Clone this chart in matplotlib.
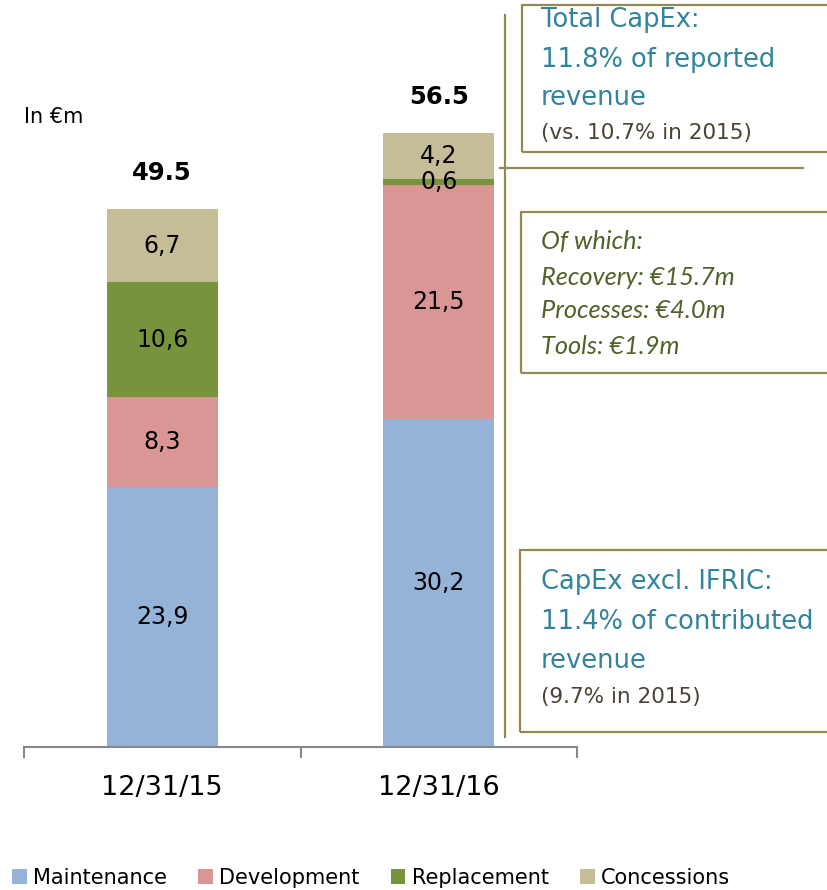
import matplotlib
matplotlib.use("Agg")
import matplotlib.pyplot as plt
from matplotlib.patches import Rectangle
from matplotlib.lines import Line2D
import numpy as np

# data
dates = ["12/31/15", "12/31/16"]
series = ["Maintenance", "Development", "Replacement", "Concessions"]
maintenance = [23.9, 30.2]
development = [8.3, 21.5]
replacement = [10.6, 0.6]
concessions = [6.7, 4.2]
totals = [49.5, 56.5]
colors = ["#95B3D7", "#D99694", "#77933C", "#C4BD97"]

W, H = 827, 890
plt.rcParams['font.family'] = 'DejaVu Sans'

fig = plt.figure(figsize=(W / 100, H / 100), dpi=100)


def fx(px):
    return px / W


def fy(py):
    return 1 - py / H


# axes: baseline at y=747px, spans x 24..577px
ax = fig.add_axes([fx(24), fy(747), fx(577) - fx(24), (747 - 95) / H])
ax.set_xlim(-0.5, 1.5)
ax.set_ylim(0, 60)

x = np.arange(len(dates))
bottom = np.zeros(len(dates))
containers = []
for name, vals, c in zip(series, [maintenance, development, replacement, concessions], colors):
    bc = ax.bar(x, vals, 0.4, bottom=bottom, color=c, label=name)
    ax.bar_label(bc, labels=[f"{v:.1f}".replace(".", ",") for v in vals],
                 label_type="center", fontsize=17, color="black")
    bottom += np.array(vals)
    containers.append(bc)

ax.bar_label(containers[-1], labels=[f"{t:.1f}" for t in totals], padding=17,
             fontsize=17.5, fontweight="bold")

for s in ["top", "left", "right"]:
    ax.spines[s].set_visible(False)
ax.spines["bottom"].set_color("#888888")
ax.spines["bottom"].set_linewidth(1.5)
ax.set_yticks([])
ax.set_xticks(x)
ax.set_xticklabels(dates, fontsize=19.5)
ax.tick_params(axis="x", which="major", length=0, pad=20)
ax.set_xticks([-0.5, 0.5, 1.5], minor=True)
ax.tick_params(axis="x", which="minor", length=8, width=1.5, color="#888888")

fig.text(fx(24), fy(117), "In €m", fontsize=15, va="center", ha="left")

# legend
fig.legend(handles=containers, labels=series, loc="center left",
           bbox_to_anchor=(fx(4), fy(878)), ncol=4, frameon=False, fontsize=15,
           handlelength=0.7, handleheight=0.7, handletextpad=0.3,
           columnspacing=1.5, borderaxespad=0)

# annotation boxes
box_col = "#938953"
teal = "#31849B"
dark = "#4A4232"
green = "#4F6228"

for (l, t, b) in [(522, 5, 152), (521, 212, 373), (520, 550, 732)]:
    fig.add_artist(Rectangle((fx(l), fy(b)), fx(860 - l), (b - t) / H,
                             transform=fig.transFigure, fill=False,
                             edgecolor=box_col, lw=1.6, clip_on=False))

fig.add_artist(Line2D([fx(505), fx(505)], [fy(15), fy(737)], color=box_col, lw=1.6))
fig.add_artist(Line2D([fx(500), fx(803)], [fy(168), fy(168)], color=box_col, lw=1.6))

tx = fx(541)
for yy, s in [(20, "Total CapEx:"), (60, "11.8% of reported"), (98, "revenue")]:
    fig.text(tx, fy(yy), s, fontsize=18.5, color=teal, va="center")
fig.text(tx, fy(133), "(vs. 10.7% in 2015)", fontsize=15.5, color=dark, va="center")

for yy, s in [(242, "Of which:"), (277, "Recovery: €15.7m"),
              (311, "Processes: €4.0m"), (346, "Tools: €1.9m")]:
    fig.text(tx, fy(yy), s, fontsize=18.3, color=green, style="italic", va="center",
             family="Lato")

for yy, s in [(582, "CapEx excl. IFRIC:"), (622, "11.4% of contributed"), (661, "revenue")]:
    fig.text(tx, fy(yy), s, fontsize=18.5, color=teal, va="center")
fig.text(tx, fy(697), "(9.7% in 2015)", fontsize=15.5, color=dark, va="center")

fig.savefig("out.png", dpi=100)
